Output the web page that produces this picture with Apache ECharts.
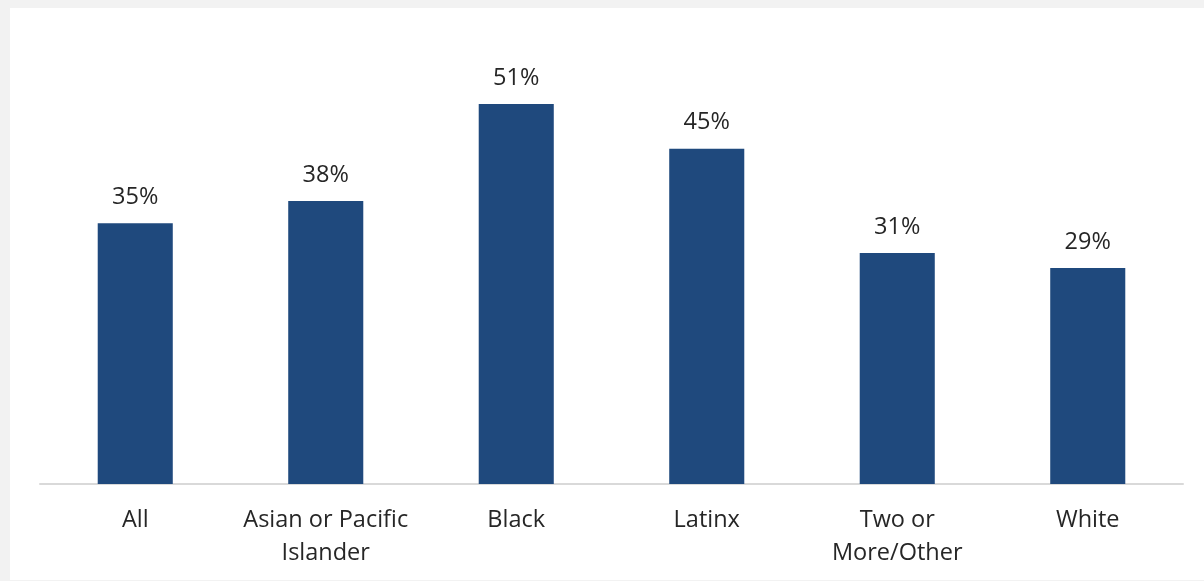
<!DOCTYPE html>
<html>
<head>
<meta charset="utf-8">
<script src="https://cdn.jsdelivr.net/npm/echarts@6/dist/echarts.min.js"></script>
<style>
html,body{margin:0;padding:0;background:#f2f2f2;width:1204px;height:581px;overflow:hidden;}
#chart{position:absolute;left:10px;top:8px;width:1194px;height:572px;background:#ffffff;}
</style>
</head>
<body>
<div id="chart"></div>
<script>
const categories = ['All', 'Asian or Pacific\nIslander', 'Black', 'Latinx', 'Two or\nMore/Other', 'White'];
const values = [35, 38, 51, 45, 31, 29];

const chart = echarts.init(document.getElementById('chart'), null, {renderer: 'canvas'});
chart.setOption({
  animation: false,
  backgroundColor: '#ffffff',
  grid: {left: 30, right: 21, top: 29, bottom: 96, containLabel: false},
  xAxis: {
    type: 'category',
    data: categories,
    axisLine: {show: true, lineStyle: {color: '#d9d9d9', width: 2}},
    axisTick: {show: false},
    axisLabel: {
      color: '#262626',
      fontFamily: 'Open Sans',
      fontSize: 23.5,
      lineHeight: 33,
      margin: 20,
      interval: 0
    }
  },
  yAxis: {
    type: 'value',
    min: 0,
    max: 60,
    show: false,
    splitLine: {show: false}
  },
  series: [{
    type: 'bar',
    data: values,
    barWidth: '39.4%',
    itemStyle: {color: '#1F497D'},
    label: {
      show: true,
      position: 'top',
      distance: 14,
      formatter: '{c}%',
      color: '#262626',
      fontFamily: 'Open Sans',
      fontSize: 23.5
    }
  }]
});
</script>
</body>
</html>
